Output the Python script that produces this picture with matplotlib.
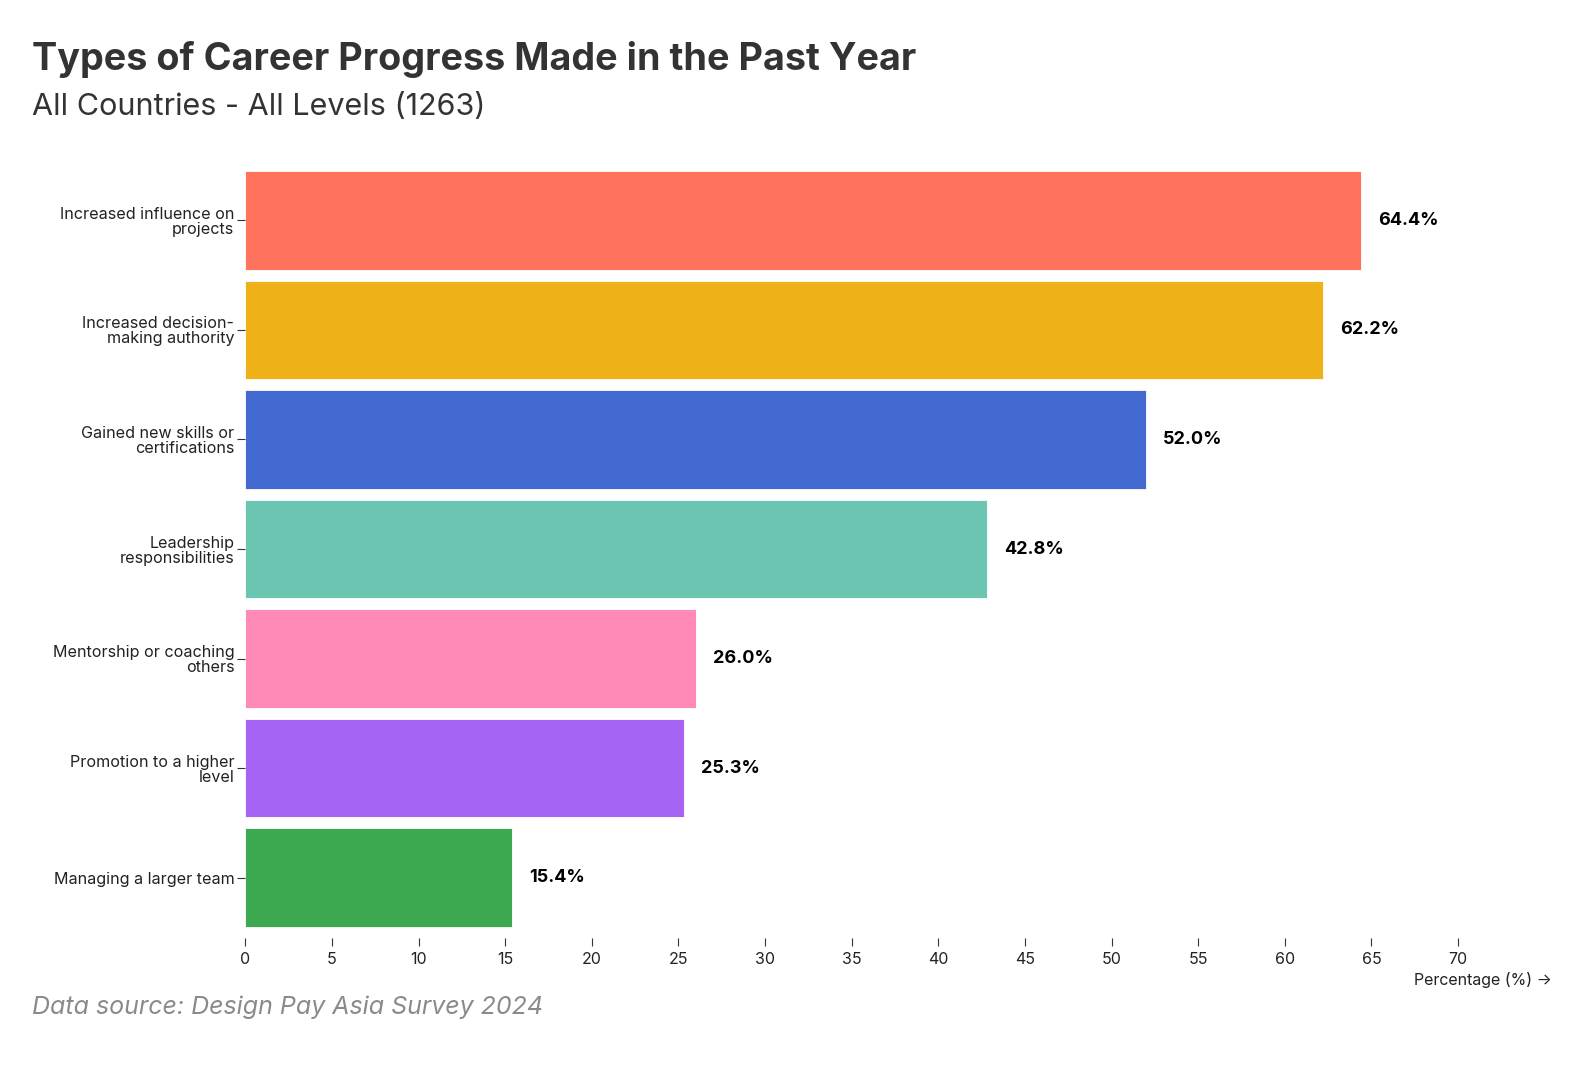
import matplotlib
matplotlib.use("Agg")
import matplotlib.pyplot as plt

categories = [
    "Increased influence on\nprojects",
    "Increased decision-\nmaking authority",
    "Gained new skills or\ncertifications",
    "Leadership\nresponsibilities",
    "Mentorship or coaching\nothers",
    "Promotion to a higher\nlevel",
    "Managing a larger team",
]
values = [64.4, 62.2, 52.0, 42.8, 26.0, 25.3, 15.4]
colors = ["#ff725c", "#efb118", "#4269d0", "#6cc5b0", "#ff8ab7", "#a463f2", "#3ca951"]
xticks = list(range(0, 75, 5))

plt.rcParams['font.family'] = ['Inter', 'DejaVu Sans']

fig = plt.figure(figsize=(15.9, 10.84), dpi=100)
ax = fig.add_axes([245.4/1590, 1 - 938/1084, (1555 - 245.4)/1590, (938 - 160)/1084])

ypos = list(range(len(categories)))
ax.barh(ypos, values, height=0.9, color=colors, edgecolor="white", linewidth=0.6)
ax.set_ylim(len(categories) - 0.45, -0.55)
ax.set_xlim(0, 75.6)

for y, v in zip(ypos, values):
    ax.annotate(f"{v:.1f}%", xy=(v, y), xytext=(17, 0), textcoords="offset pixels",
                ha="left", va="center", fontsize=13, fontweight="bold", color="black")

ax.set_yticks(ypos)
ax.set_yticklabels(categories, fontsize=11.6, color="#222222", linespacing=1.0)
ax.set_xticks(xticks)
ax.set_xticklabels([str(t) for t in xticks], fontsize=11.5, color="#222222")
ax.tick_params(axis="y", length=6, width=0.8, color="#333333", pad=2)
ax.tick_params(axis="x", length=6, width=0.8, color="#333333", pad=4)
for s in ax.spines.values():
    s.set_visible(False)

fig.text(1552/1590, 1 - 985/1084, "Percentage (%) →", ha="right", va="baseline",
         fontsize=11.5, color="#222222")

fig.text(32.5/1590, 1 - 70/1084, "Types of Career Progress Made in the Past Year",
         ha="left", va="baseline", fontsize=27.2, fontweight="bold", color="#333333")
fig.text(32.5/1590, 1 - 115/1084, "All Countries - All Levels (1263)",
         ha="left", va="baseline", fontsize=22, color="#333333")
fig.text(32.5/1590, 1 - 1014/1084, "Data source: Design Pay Asia Survey 2024",
         ha="left", va="baseline", fontsize=18, style="italic", color="#8a8a8a")

fig.savefig("out.png", dpi=100, facecolor="white")
